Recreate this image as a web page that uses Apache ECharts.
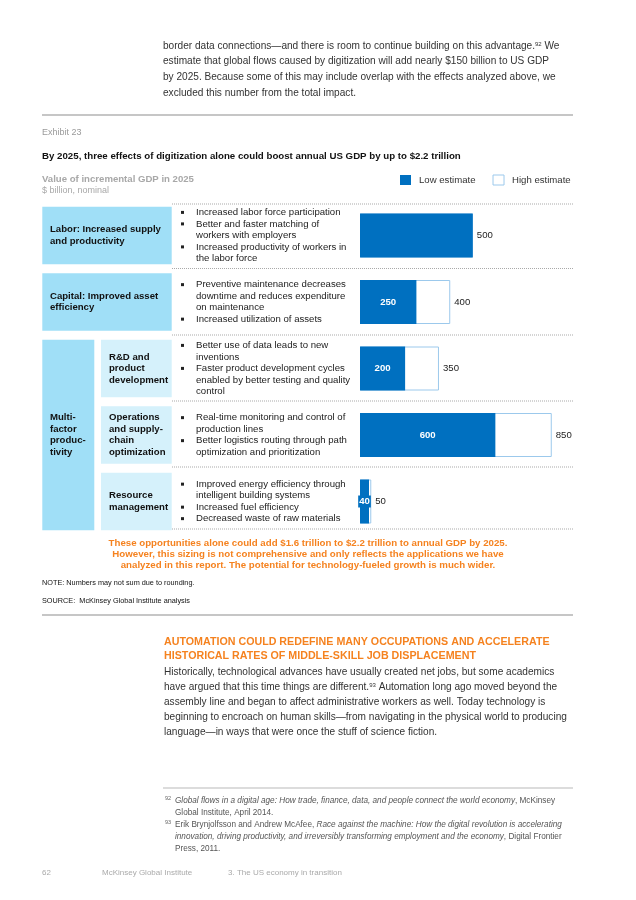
<!DOCTYPE html>
<html><head><meta charset="utf-8">
<script src="https://cdn.jsdelivr.net/npm/echarts@6/dist/echarts.min.js"></script>
<style>html,body{margin:0;padding:0;background:#fff}#c{width:636px;height:900px}</style>
</head><body><div id="c"></div>
<script>
// ---- data ----
const categories = ['Labor', 'Capital', 'R&D', 'Operations', 'Resource'];
const lowEstimate = [500, 250, 200, 600, 40];
const highEstimate = [500, 400, 350, 850, 50];
const seriesNames = ['Low estimate', 'High estimate'];

// ---- texts ----
const topParagraph = [
  'border data connections\u2014and there is room to continue building on this advantage.{sup|92} We',
  'estimate that global flows caused by digitization will add nearly $150 billion to US GDP',
  'by 2025. Because some of this may include overlap with the effects analyzed above, we',
  'excluded this number from the total impact.'
];
const exhibitLabel = 'Exhibit 23';
const chartTitle = 'By 2025, three effects of digitization alone could boost annual US GDP by up to $2.2 trillion';
const unitTitle = 'Value of incremental GDP in 2025';
const unitSub = '$ billion, nominal';
const rowLabels = [
  'Labor: Increased supply\nand productivity',
  'Capital: Improved asset\nefficiency',
  'R&D and\nproduct\ndevelopment',
  'Operations\nand supply-\nchain\noptimization',
  'Resource\nmanagement'
];
const groupLabel = 'Multi-\nfactor\nproduc-\ntivity';
const rowBullets = [
  [[1, 'Increased labor force participation'], [1, 'Better and faster matching of'], [0, 'workers with employers'], [1, 'Increased productivity of workers in'], [0, 'the labor force']],
  [[1, 'Preventive maintenance decreases'], [0, 'downtime and reduces expenditure'], [0, 'on maintenance'], [1, 'Increased utilization of assets']],
  [[1, 'Better use of data leads to new'], [0, 'inventions'], [1, 'Faster product development cycles'], [0, 'enabled by better testing and quality'], [0, 'control']],
  [[1, 'Real-time monitoring and control of'], [0, 'production lines'], [1, 'Better logistics routing through path'], [0, 'optimization and prioritization']],
  [[1, 'Improved energy efficiency through'], [0, 'intelligent building systems'], [1, 'Increased fuel efficiency'], [1, 'Decreased waste of raw materials']]
];
const conclusion = [
  'These opportunities alone could add $1.6 trillion to $2.2 trillion to annual GDP by 2025.',
  'However, this sizing is not comprehensive and only reflects the applications we have',
  'analyzed in this report. The potential for technology-fueled growth is much wider.'
];
const noteText = 'NOTE: Numbers may not sum due to rounding.';
const sourceText = 'SOURCE:  McKinsey Global Institute analysis';
const sectionHeading = [
  'AUTOMATION COULD REDEFINE MANY OCCUPATIONS AND ACCELERATE',
  'HISTORICAL RATES OF MIDDLE-SKILL JOB DISPLACEMENT'
];
const sectionBody = [
  'Historically, technological advances have usually created net jobs, but some academics',
  'have argued that this time things are different.{sup|93} Automation long ago moved beyond the',
  'assembly line and began to affect administrative workers as well. Today technology is',
  'beginning to encroach on human skills\u2014from navigating in the physical world to producing',
  'language\u2014in ways that were once the stuff of science fiction.'
];
const footnotes = [
  ['92', ['{i|Global flows in a digital age: How trade, finance, data, and people connect the world economy}, McKinsey', 'Global Institute, April 2014.']],
  ['93', ['Erik Brynjolfsson and Andrew McAfee, {i|Race against the machine: How the digital revolution is accelerating}', '{i|innovation, driving productivity, and irreversibly transforming employment and the economy}, Digital Frontier', 'Press, 2011.']]
];
const pageFooter = ['62', 'McKinsey Global Institute', '3. The US economy in transition'];

// ---- layout ----
const FONT = '"Liberation Sans", Arial, Helvetica, sans-serif';
const BLUE = '#0070c0';
const ORANGE = '#f5821f';
const GRID_LEFT = 360, GRID_TOP = 202.25, BAND = 66.5, GRID_W = 225.6;
const rowCenter = i => GRID_TOP + BAND * (i + 0.5);
const BOX_H = 57.5;

const g = [];
function text(x, y, t, o) {
  o = o || {};
  g.push({
    type: 'text', silent: true, z: 10,
    style: Object.assign({
      x: x, y: y, text: t, fill: o.fill || '#222',
      fontSize: o.size || 9.6, fontFamily: FONT,
      fontWeight: o.weight || 'normal', fontStyle: o.style || 'normal',
      textAlign: o.align || 'left', textVerticalAlign: 'middle',
      lineHeight: o.lh || undefined, rich: o.rich || undefined
    })
  });
}
function rect(x, y, w, h, fill, stroke) {
  g.push({ type: 'rect', silent: true, z: 1, shape: { x: x, y: y, width: w, height: h },
    style: { fill: fill || 'none', stroke: stroke || null } });
}
function line(x1, y1, x2, y2, stroke, w, dash) {
  g.push({ type: 'line', silent: true, z: 1, shape: { x1: x1, y1: y1, x2: x2, y2: y2 },
    style: { stroke: stroke, lineWidth: w, lineDash: dash || null } });
}

// top paragraph
const supRich = (fill) => ({ sup: { fontSize: 6, fill: fill, verticalAlign: 'top', fontFamily: FONT, lineHeight: 8, padding: [0, 0, 4, 0] } });
topParagraph.forEach((t, i) => text(163, 46 + 15.6 * i, t, { size: 10.1, fill: '#333', rich: supRich('#333') }));

line(42, 115, 573, 115, '#c6c6c6', 2);
text(42, 133, exhibitLabel, { size: 9, fill: '#9a9a9a' });
text(42, 156.5, chartTitle, { size: 9.7, weight: 'bold', fill: '#111' });
text(42, 179, unitTitle, { size: 9.6, weight: 'bold', fill: '#a8a8a8' });
text(42, 191, unitSub, { size: 9, fill: '#a8a8a8' });

// dotted separators
[204, 268.5, 335, 401, 467, 529].forEach(y => line(172, y, 573, y, '#a9a9a9', 1, [1, 1]));

// row boxes
const LIGHT = '#a0dff7', LIGHTER = '#d5f1fb';
[0, 1].forEach(i => {
  rect(42.3, rowCenter(i) - BOX_H / 2, 129.4, BOX_H, LIGHT);
  text(50, rowCenter(i), rowLabels[i], { weight: 'bold', fill: '#111', lh: 11.5 });
});
rect(42.3, rowCenter(2) - BOX_H / 2, 52, rowCenter(4) - rowCenter(2) + BOX_H, LIGHT);
text(50, (rowCenter(2) + rowCenter(4)) / 2, groupLabel, { weight: 'bold', fill: '#111', lh: 11.5 });
[2, 3, 4].forEach(i => {
  rect(101, rowCenter(i) - BOX_H / 2, 70.7, BOX_H, LIGHTER);
  text(109, rowCenter(i), rowLabels[i], { weight: 'bold', fill: '#111', lh: 11.5 });
});

// bullets
rowBullets.forEach((lines, i) => {
  const c = rowCenter(i), n = lines.length;
  lines.forEach((l, j) => {
    const y = c + (j - (n - 1) / 2) * 11.5;
    if (l[0]) rect(181, y - 1.6, 3, 3, '#222');
    text(196, y, l[1], { fill: '#222' });
  });
});

// conclusion
conclusion.forEach((t, i) => text(308, 543 + 11.2 * i, t, { align: 'center', weight: 'bold', fill: ORANGE, size: 9.7 }));
text(42, 583, noteText, { size: 7.3, fill: '#111' });
text(42, 601, sourceText, { size: 7.3, fill: '#111' });
line(42, 615, 573, 615, '#c6c6c6', 2);

// section
sectionHeading.forEach((t, i) => text(164, 641.7 + 14 * i, t, { weight: 'bold', fill: ORANGE, size: 10.7 }));
sectionBody.forEach((t, i) => text(164, 672.5 + 15 * i, t, { size: 10.1, fill: '#333', rich: supRich('#333') }));

// footnotes
line(163, 788, 573, 788, '#dcdcdc', 2);
let fy = 801;
footnotes.forEach(f => {
  text(165, fy - 3, f[0], { size: 5.5, fill: '#666' });
  f[1].forEach(t => {
    text(175, fy, t, { size: 8.2, fill: '#555', rich: { i: { fontStyle: 'italic', fontSize: 8.2, fill: '#555', fontFamily: FONT } } });
    fy += 12;
  });
});

// page footer
text(42, 873, pageFooter[0], { size: 8, fill: '#aaa' });
text(102, 873, pageFooter[1], { size: 8, fill: '#aaa' });
text(228, 873, pageFooter[2], { size: 8, fill: '#aaa' });

// ---- chart ----
const chart = echarts.init(document.getElementById('c'), null, { renderer: 'canvas' });
chart.setOption({
  animation: false,
  backgroundColor: '#fff',
  textStyle: { fontFamily: FONT },
  legend: {
    data: seriesNames, left: 400, top: 174.5, padding: 0, itemWidth: 11, itemHeight: 10, itemGap: 17,
    icon: 'rect', selectedMode: false,
    itemStyle: { borderWidth: 1 },
    textStyle: { fontSize: 9.6, color: '#333', fontFamily: FONT, padding: [0, 0, 0, 3] }
  },
  grid: { left: GRID_LEFT, top: GRID_TOP, width: GRID_W, height: BAND * categories.length, containLabel: false },
  xAxis: { type: 'value', min: 0, max: 1000, show: false },
  yAxis: { type: 'category', data: categories, inverse: true, show: false },
  series: [
    {
      name: seriesNames[1], type: 'bar', data: highEstimate, barWidth: 44, z: 2,
      itemStyle: { color: '#ffffff', borderColor: '#9cc9ec', borderWidth: 1 },
      label: { show: true, position: 'right', distance: 4, color: '#222', fontSize: 9.6, fontFamily: FONT }
    },
    {
      name: seriesNames[0], type: 'bar', barGap: '-100%', barWidth: 44, z: 3,
      data: lowEstimate.map((v, i) => v === highEstimate[i] ? { value: v, label: { show: false } } : v),
      itemStyle: { color: BLUE },
      label: { show: true, position: 'inside', color: '#fff', fontWeight: 'bold', fontSize: 9.6, fontFamily: FONT,
        backgroundColor: BLUE, padding: [1, 1] }
    }
  ],
  graphic: { elements: g }
});
</script>
</body></html>
